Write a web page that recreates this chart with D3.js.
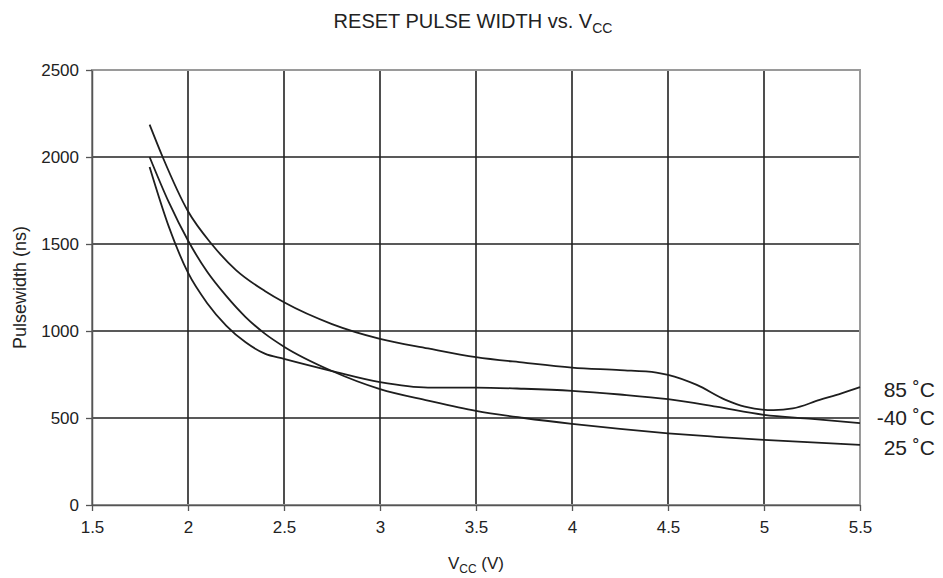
<!DOCTYPE html>
<html>
<head>
<meta charset="utf-8">
<script src="https://cdn.jsdelivr.net/npm/d3@7"></script>
<style>
  body { margin: 0; background: #fff; }
  text { font-family: "Liberation Sans", Arial, sans-serif; fill: #222; }
</style>
</head>
<body>
<div id="chart"></div>
<script>
// readings from the reference (V, ns)
var vcc85 = [1.8, 1.868, 2.0, 2.123, 2.25, 2.4, 2.5, 2.75, 3.0, 3.25, 3.5, 3.75, 4.0, 4.25, 4.44, 4.5, 4.65, 4.8, 4.9, 5.05, 5.15, 5.29, 5.4, 5.5];
var ns85  = [2186, 2000, 1688, 1500, 1350, 1230, 1165, 1040, 955, 900, 850, 818, 790, 775, 761, 748, 690, 604, 565, 545, 555, 604, 640, 677];
var vccM40 = [1.8, 1.9, 2.0, 2.1, 2.2, 2.3, 2.4, 2.5, 2.75, 3.0, 3.25, 3.5, 3.75, 4.0, 4.25, 4.5, 4.75, 5.0, 5.25, 5.5];
var nsM40  = [1943, 1600, 1335, 1160, 1030, 935, 870, 840, 770, 706, 675, 675, 668, 656, 635, 608, 565, 518, 495, 470];
var vcc25 = [1.8, 1.9, 2.0, 2.1, 2.2, 2.3, 2.4, 2.5, 2.75, 3.0, 3.25, 3.5, 3.75, 4.0, 4.25, 4.5, 4.75, 5.0, 5.25, 5.5];
var ns25  = [2000, 1740, 1520, 1340, 1200, 1080, 985, 910, 770, 666, 600, 541, 500, 466, 437, 412, 392, 374, 360, 345];
var seriesNames = ["85 \u02DAC", "-40 \u02DAC", "25 \u02DAC"];
var xTicks = [1.5, 2, 2.5, 3, 3.5, 4, 4.5, 5, 5.5];
var yTicks = [0, 500, 1000, 1500, 2000, 2500];

var W = 943, H = 578;
var margin = { top: 70, right: 83, bottom: 73, left: 92 },
    width = W - margin.left - margin.right,
    height = H - margin.top - margin.bottom;

var svg = d3.select("#chart").append("svg")
    .attr("width", W)
    .attr("height", H);

var g = svg.append("g")
    .attr("transform", "translate(" + margin.left + "," + margin.top + ")");

var x = d3.scaleLinear().domain([1.5, 5.5]).range([0, width]);
var y = d3.scaleLinear().domain([0, 2500]).range([height, 0]);

// grid
g.selectAll(".vgrid").data(xTicks.slice(1, -1)).enter().append("line")
    .attr("x1", function (d) { return x(d); }).attr("x2", function (d) { return x(d); })
    .attr("y1", 0).attr("y2", height)
    .style("stroke", "#222").style("stroke-width", 1.6);
g.selectAll(".hgrid").data(yTicks.slice(1, -1)).enter().append("line")
    .attr("x1", 0).attr("x2", width)
    .attr("y1", function (d) { return y(d); }).attr("y2", function (d) { return y(d); })
    .style("stroke", "#222").style("stroke-width", 1.6);

// frame
g.append("rect")
    .attr("x", 0).attr("y", 0).attr("width", width).attr("height", height)
    .style("fill", "none").style("stroke", "#9a9a9a").style("stroke-width", 2);

// axes
var xAxis = g.append("g")
    .attr("transform", "translate(0," + height + ")")
    .call(d3.axisBottom(x).tickValues(xTicks).tickSize(6).tickSizeOuter(0).tickPadding(10)
        .tickFormat(d3.format("")));
var yAxis = g.append("g")
    .call(d3.axisLeft(y).tickValues(yTicks).tickSize(6).tickSizeOuter(0).tickPadding(7)
        .tickFormat(d3.format("d")));
[xAxis, yAxis].forEach(function (a) {
    a.select(".domain").style("stroke", "#555").style("stroke-width", 1.5);
    a.selectAll(".tick line").style("stroke", "#555").style("stroke-width", 1.3);
    a.selectAll("text").style("font-size", "17px").style("font-family", "Liberation Sans, Arial, sans-serif").style("fill", "#222");
});

// curves
var line = d3.line()
    .x(function (d) { return x(d[0]); })
    .y(function (d) { return y(d[1]); })
    .curve(d3.curveMonotoneX);

var series = [
    d3.zip(vcc85, ns85),
    d3.zip(vccM40, nsM40),
    d3.zip(vcc25, ns25)
];
g.selectAll(".curve").data(series).enter().append("path")
    .attr("d", line)
    .style("fill", "none")
    .style("stroke", "#1e1e1e")
    .style("stroke-width", 1.8);

// series labels
g.selectAll(".slabel").data(seriesNames).enter().append("text")
    .attr("x", W - margin.left - 8)
    .attr("y", function (d, i) { return [390, 418, 448][i] - margin.top; })
    .attr("dy", "0.35em")
    .style("text-anchor", "end")
    .style("font-size", "21px")
    .text(function (d) { return d; });

// title
var title = svg.append("text")
    .attr("x", 473).attr("y", 28)
    .style("text-anchor", "middle")
    .style("font-size", "20px");
title.append("tspan").text("RESET PULSE WIDTH vs. V");
title.append("tspan").attr("dy", 5).style("font-size", "14px").text("CC");

// x label
var xl = svg.append("text")
    .attr("x", 476).attr("y", 569)
    .style("text-anchor", "middle")
    .style("font-size", "17px");
xl.append("tspan").text("V");
xl.append("tspan").attr("dy", 4).style("font-size", "12px").text("CC");
xl.append("tspan").attr("dy", -4).text(" (V)");

// y label
svg.append("text")
    .attr("transform", "translate(26," + (margin.top + height / 2) + ") rotate(-90)")
    .style("text-anchor", "middle")
    .style("font-size", "18px")
    .text("Pulsewidth (ns)");
</script>
</body>
</html>
